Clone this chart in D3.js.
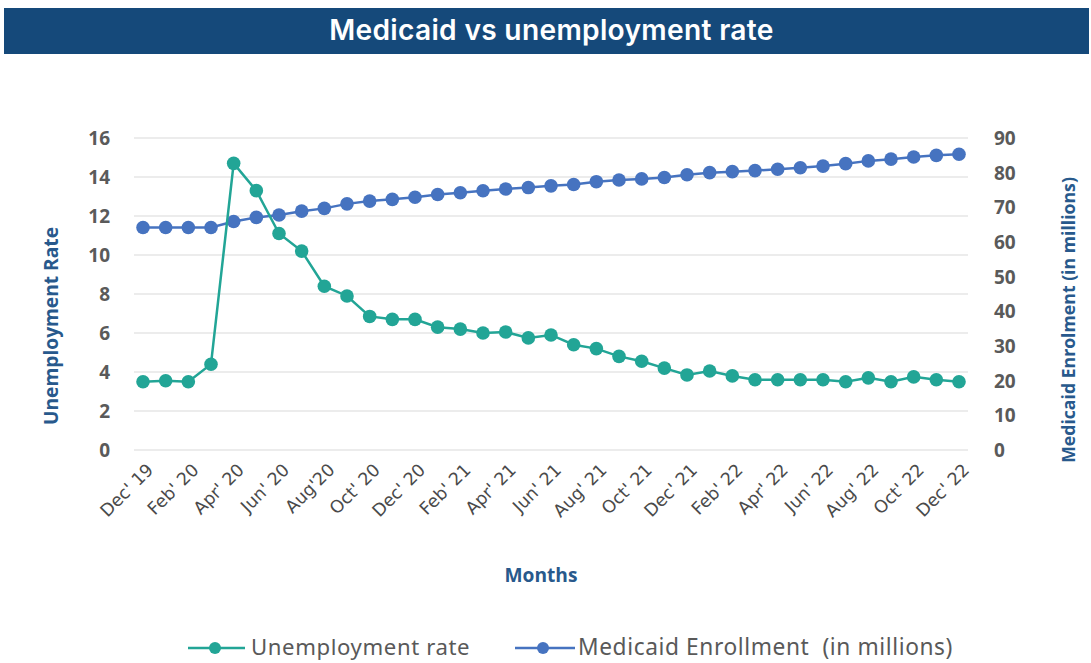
<!DOCTYPE html>
<html>
<head>
<meta charset="utf-8">
<script src="https://cdn.jsdelivr.net/npm/d3@7/dist/d3.min.js"></script>
<style>
  html, body { margin: 0; padding: 0; background: #ffffff; }
  svg { display: block; }
</style>
</head>
<body>
<svg id="chart" width="1091" height="663"></svg>
<script>
// ---------------- DATA ----------------
const months = [
  "Dec 19","Jan 20","Feb 20","Mar 20","Apr 20","May 20","Jun 20","Jul 20","Aug 20","Sep 20","Oct 20","Nov 20",
  "Dec 20","Jan 21","Feb 21","Mar 21","Apr 21","May 21","Jun 21","Jul 21","Aug 21","Sep 21","Oct 21","Nov 21",
  "Dec 21","Jan 22","Feb 22","Mar 22","Apr 22","May 22","Jun 22","Jul 22","Aug 22","Sep 22","Oct 22","Nov 22","Dec 22"
];
const tickLabels = [
  "Dec' 19","Feb' 20","Apr' 20","Jun' 20","Aug'20","Oct' 20","Dec' 20","Feb' 21","Apr' 21","Jun' 21",
  "Aug' 21","Oct' 21","Dec' 21","Feb' 22","Apr' 22","Jun' 22","Aug' 22","Oct' 22","Dec' 22"
];
const unemployment = [
  3.5, 3.55, 3.5, 4.4, 14.7, 13.3, 11.1, 10.2, 8.4, 7.9, 6.85, 6.7,
  6.7, 6.3, 6.2, 6.0, 6.05, 5.75, 5.9, 5.4, 5.2, 4.8, 4.55, 4.2,
  3.85, 4.05, 3.8, 3.6, 3.6, 3.6, 3.6, 3.5, 3.7, 3.5, 3.75, 3.6, 3.5
];
const medicaid = [
  64.2, 64.2, 64.2, 64.2, 65.9, 67.1, 67.8, 68.9, 69.7, 71.0, 71.8, 72.3,
  72.9, 73.7, 74.2, 74.8, 75.3, 75.7, 76.2, 76.6, 77.4, 77.9, 78.2, 78.6,
  79.4, 80.0, 80.3, 80.6, 81.0, 81.4, 81.9, 82.6, 83.4, 83.9, 84.5, 85.0, 85.3
];
const leftTicks = [0, 2, 4, 6, 8, 10, 12, 14, 16];
const rightTicks = [0, 10, 20, 30, 40, 50, 60, 70, 80, 90];

const titleText = "Medicaid vs unemployment rate";
const leftTitle = "Unemployment Rate";
const rightTitle = "Medicaid Enrolment (in millions)";
const xTitle = "Months";
const legendLabels = ["Unemployment rate", "Medicaid Enrollment  (in millions)"];

// ---------------- STYLE ----------------
const teal = "#22a596";
const blue = "#4673c0";
const navy = "#15497a";
const axisTitleColor = "#28598c";
const tickColor = "#5a5a5a";
const gridColor = "#ececec";

const svg = d3.select("#chart");

function fit(sel, target) {
  const node = sel.node();
  const fs = parseFloat(sel.attr("font-size"));
  const w = node.getComputedTextLength();
  if (w > 0) sel.attr("font-size", (fs * target / w).toFixed(2));
  return sel;
}

// Title band
svg.append("rect").attr("x", 4).attr("y", 8).attr("width", 1085).attr("height", 46).attr("fill", navy);
fit(svg.append("text").attr("x", 551.5).attr("y", 40).attr("text-anchor", "middle")
  .attr("font-family", "Inter, 'Open Sans', sans-serif").attr("font-weight", 600)
  .attr("letter-spacing", 0.3)
  .attr("font-size", 22).attr("fill", "#ffffff").text(titleText), 447);

// Scales
const x = d3.scalePoint().domain(months).range([143, 959]);
const yL = d3.scaleLinear().domain([0, 16]).range([450, 138]);
const yR = d3.scaleLinear().domain([0, 90]).range([450, 138]);

// Gridlines
svg.append("g").selectAll("line").data(leftTicks).join("line")
  .attr("x1", 134).attr("x2", 968)
  .attr("y1", d => yL(d)).attr("y2", d => yL(d))
  .attr("stroke", gridColor).attr("stroke-width", 2);

// Left axis
const gL = svg.append("g").attr("transform", "translate(110,0)")
  .call(d3.axisLeft(yL).tickValues(leftTicks).tickSize(0).tickPadding(0));
gL.select(".domain").remove();
gL.selectAll("text").attr("font-family", "'Open Sans', sans-serif").attr("font-weight", 700)
  .attr("font-size", 19).attr("fill", tickColor).attr("dy", "0.35em");

// Right axis
const gR = svg.append("g").attr("transform", "translate(994,0)")
  .call(d3.axisRight(yR).tickValues(rightTicks).tickSize(0).tickPadding(0));
gR.select(".domain").remove();
gR.selectAll("text").attr("font-family", "'Open Sans', sans-serif").attr("font-weight", 700)
  .attr("font-size", 19).attr("fill", tickColor).attr("dy", "0.35em");

// Bottom axis labels (every 2nd month)
const tickMonths = months.filter((m, i) => i % 2 === 0);
const gX = svg.append("g").attr("transform", "translate(0,450)")
  .call(d3.axisBottom(x).tickValues(tickMonths).tickSize(0).tickFormat((d, i) => tickLabels[i]));
gX.select(".domain").remove();
gX.selectAll("text")
  .attr("font-family", "'DejaVu Sans', sans-serif").attr("font-size", 17.5).attr("fill", "#4a4a4a")
  .attr("text-anchor", "end").attr("dy", 0).attr("y", 0)
  .attr("transform", "translate(11,21) rotate(-45)");

// Axis titles
fit(svg.append("text").attr("transform", "translate(58,326) rotate(-90)").attr("text-anchor", "middle")
  .attr("font-family", "'Open Sans', sans-serif").attr("font-weight", 700).attr("font-size", 16)
  .attr("fill", axisTitleColor).text(leftTitle), 198);
fit(svg.append("text").attr("transform", "translate(1075,320) rotate(-90)").attr("text-anchor", "middle")
  .attr("font-family", "'Open Sans', sans-serif").attr("font-weight", 700).attr("font-size", 16)
  .attr("fill", axisTitleColor).text(rightTitle), 286);
fit(svg.append("text").attr("x", 541).attr("y", 582).attr("text-anchor", "middle")
  .attr("font-family", "'Open Sans', sans-serif").attr("font-weight", 700).attr("font-size", 16)
  .attr("fill", axisTitleColor).text(xTitle), 73);

// Series
const series = [
  { values: medicaid, y: yR, color: blue },
  { values: unemployment, y: yL, color: teal }
];
series.forEach(s => {
  const line = d3.line().x((d, i) => x(months[i])).y(d => s.y(d));
  svg.append("path").datum(s.values).attr("d", line)
    .attr("fill", "none").attr("stroke", s.color).attr("stroke-width", 2.5);
  svg.append("g").selectAll("circle").data(s.values).join("circle")
    .attr("cx", (d, i) => x(months[i])).attr("cy", d => s.y(d)).attr("r", 6.8)
    .attr("fill", s.color);
});

// Legend
const legendItems = [
  { label: legendLabels[0], color: teal, x1: 188, x2: 245, cx: 215, tx: 251, w: 221 },
  { label: legendLabels[1], color: blue, x1: 515, x2: 575, cx: 543, tx: 578, w: 379 }
];
legendItems.forEach(it => {
  svg.append("line").attr("x1", it.x1).attr("x2", it.x2).attr("y1", 648).attr("y2", 648)
    .attr("stroke", it.color).attr("stroke-width", 2.5);
  svg.append("circle").attr("cx", it.cx).attr("cy", 648).attr("r", 6).attr("fill", it.color);
  fit(svg.append("text").attr("x", it.tx).attr("y", 655)
    .attr("font-family", "'Noto Sans', sans-serif").attr("font-size", 19)
    .attr("letter-spacing", 0.6)
    .attr("fill", "#595959").attr("xml:space", "preserve").style("white-space", "pre")
    .text(it.label), it.w);
});
</script>
</body>
</html>
